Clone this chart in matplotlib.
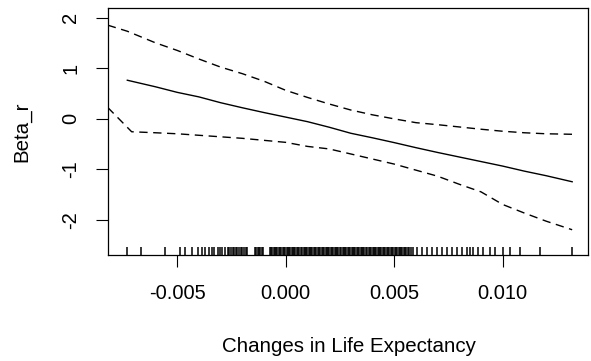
import numpy as np
import matplotlib
matplotlib.use("Agg")
import matplotlib.pyplot as plt

plt.rcParams['font.family'] = ['Liberation Sans', 'DejaVu Sans']

# smooth term estimate and its +/- 2 se band
fit_x = [-0.0073, -0.006, -0.005, -0.004, -0.003, -0.002, -0.001, 0.0, 0.001, 0.002,
         0.003, 0.004, 0.005, 0.006, 0.007, 0.008, 0.009, 0.010, 0.011, 0.012, 0.0132]
fit_y = [0.76, 0.63, 0.52, 0.43, 0.315, 0.215, 0.12, 0.03, -0.06, -0.17,
         -0.29, -0.38, -0.475, -0.575, -0.67, -0.76, -0.85, -0.94, -1.04, -1.13, -1.25]

upper_x = [-0.0082, -0.0073, -0.006, -0.005, -0.004, -0.003, -0.002, -0.001, 0.0, 0.001, 0.002,
           0.003, 0.004, 0.005, 0.006, 0.007, 0.008, 0.009, 0.010, 0.011, 0.012, 0.0132]
upper_y = [1.85, 1.73, 1.50, 1.35, 1.18, 1.02, 0.89, 0.74, 0.56, 0.42, 0.29,
           0.17, 0.075, -0.005, -0.08, -0.12, -0.165, -0.21, -0.25, -0.28, -0.30, -0.31]

lower_x = [-0.0082, -0.0071, -0.006, -0.005, -0.004, -0.003, -0.002, -0.001, 0.0, 0.001, 0.002,
           0.003, 0.004, 0.005, 0.006, 0.007, 0.008, 0.009, 0.010, 0.011, 0.012, 0.0132]
lower_y = [0.22, -0.26, -0.28, -0.30, -0.33, -0.36, -0.39, -0.43, -0.47, -0.55, -0.60,
           -0.70, -0.80, -0.90, -1.02, -1.14, -1.30, -1.45, -1.70, -1.87, -2.03, -2.20]

# observed values (rug)
rug_x = [-0.00733, -0.00665, -0.00556, -0.00489, -0.00464, -0.00433, -0.00406, -0.00384,
         -0.00372, -0.00353, -0.00338, -0.00329, -0.00311, -0.00303, -0.00294, -0.00280,
         -0.00266, -0.00260, -0.00252, -0.00245, -0.00238, -0.00230, -0.00224, -0.00215,
         -0.00208, -0.00200, -0.00190, -0.00184, -0.00178,
         -0.00141, -0.00136, -0.00130, -0.00125, -0.00118, -0.00110, -0.00105,
         -0.00072, -0.00066, -0.00061, -0.00055, -0.00049, -0.00044, -0.00038, -0.00031,
         -0.00025, -0.00020, -0.00014, -0.00008, -0.00002, 0.00004, 0.00010, 0.00015,
         0.00021, 0.00028, 0.00034, 0.00039, 0.00045, 0.00052, 0.00058, 0.00063,
         0.00069, 0.00076, 0.00082, 0.00087, 0.00093, 0.00099, 0.00106, 0.00112,
         0.00117, 0.00123, 0.00130, 0.00136, 0.00141, 0.00147, 0.00153, 0.00160,
         0.00166, 0.00171, 0.00177, 0.00184, 0.00190, 0.00195, 0.00201, 0.00208,
         0.00214, 0.00219, 0.00225, 0.00232, 0.00238, 0.00243, 0.00249, 0.00256,
         0.00262, 0.00267, 0.00273, 0.00280, 0.00286, 0.00291, 0.00297, 0.00304,
         0.00310, 0.00315, 0.00321, 0.00328, 0.00334, 0.00339, 0.00345, 0.00352,
         0.00358, 0.00363, 0.00369, 0.00376, 0.00382, 0.00387, 0.00393, 0.00400,
         0.00406, 0.00411, 0.00417, 0.00424, 0.00430, 0.00435, 0.00441, 0.00448,
         0.00454, 0.00459, 0.00465, 0.00472, 0.00478, 0.00483, 0.00489, 0.00496,
         0.00502, 0.00507, 0.00513, 0.00520, 0.00526, 0.00531, 0.00537, 0.00544,
         0.00550, 0.00556, 0.00562, 0.00570, 0.00578, 0.00587,
         0.00604, 0.00627, 0.00650, 0.00673, 0.00696, 0.00719, 0.00742, 0.00765,
         0.00788, 0.00811, 0.00834, 0.00849, 0.00865, 0.00888, 0.00911, 0.00941,
         0.00965, 0.01000, 0.01034, 0.01080, 0.01172, 0.01318]

xticks = [-0.005, 0.0, 0.005, 0.010]
yticks = [-2, -1, 0, 1, 2]

fig = plt.figure(figsize=(5.91, 3.61), dpi=100)
W, H = 591, 361
ax = fig.add_axes([108 / W, 1 - 255 / H, (588 - 108) / W, (255 - 8) / H])

ax.plot(fit_x, fit_y, color='black', lw=1.0)
ax.plot(upper_x, upper_y, color='black', lw=1.0, dashes=(6, 4))
ax.plot(lower_x, lower_y, color='black', lw=1.0, dashes=(6, 4))
ax.vlines(rug_x, 0, 0.032, transform=ax.get_xaxis_transform(), color='black', lw=1.1)

ax.set_xlim(-0.00819, 0.01393)
ax.set_ylim(-2.70, 2.19)
ax.set_xticks(xticks)
ax.set_xticklabels(['-0.005', '0.000', '0.005', '0.010'])
ax.set_yticks(yticks)
ax.set_yticklabels([str(v) for v in yticks], rotation=90, va='center')
ax.tick_params(direction='out', length=8.4, width=0.8, labelsize=14.5, color='black')
ax.tick_params(axis='x', pad=12.5)
ax.tick_params(axis='y', pad=11.5)
for s in ax.spines.values():
    s.set_linewidth(0.9)
    s.set_color('black')

fig.text(349 / W, 1 - 346 / H, 'Changes in Life Expectancy', ha='center', va='center', fontsize=14.8)
fig.text(21.7 / W, 1 - 131.5 / H, 'Beta_r', ha='center', va='center', rotation=90, fontsize=14.8)

fig.savefig('out.png', dpi=100)
